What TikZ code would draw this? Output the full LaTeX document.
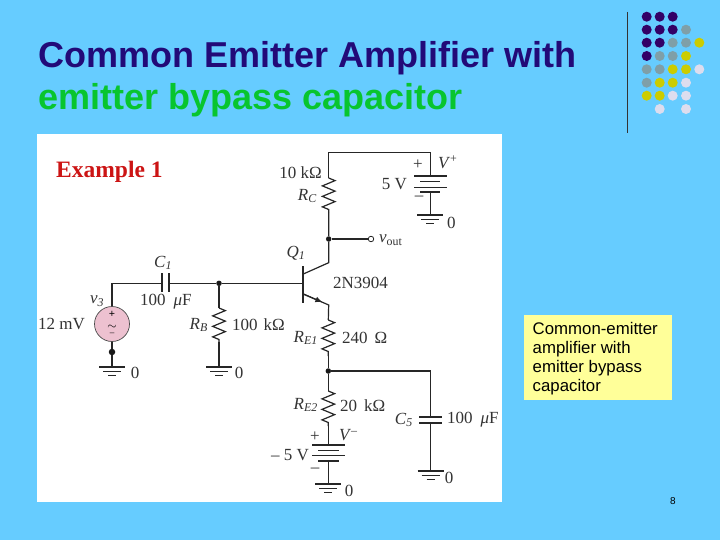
\documentclass[tikz,border=0pt]{standalone}
\usepackage{fontspec}
\setmainfont{Liberation Serif}
\newfontfamily\arialf{Liberation Sans}
\usetikzlibrary{decorations.pathmorphing,arrows.meta,calc}
\definecolor{bgblue}{HTML}{66CCFF}
\definecolor{ttlpurple}{HTML}{220A78}
\definecolor{ttlgreen}{HTML}{08C52E}
\definecolor{dotp}{HTML}{330066}
\definecolor{dotg}{HTML}{7F9FA8}
\definecolor{doty}{HTML}{CCCC00}
\definecolor{dotl}{HTML}{DDDDEE}
\definecolor{notey}{HTML}{FFFF99}
\definecolor{srcpink}{HTML}{EDC1D0}
\definecolor{exred}{HTML}{CC1414}
\newcommand{\isub}[2]{\textit{#1}\textsubscript{\textit{#2}}}
\newcommand{\isup}[2]{\textit{#1}\textsuperscript{#2}}
\tikzset{
  x=1pt,y=-1pt,
  wire/.style={line width=1.2pt,black!85},
  res/.style={line width=1.2pt,black!85,decorate,decoration={zigzag,segment length=10.5pt,amplitude=6.3pt}},
  thick plate/.style={line width=1.7pt,black!85},
  thin plate/.style={line width=.8pt,black!85},
  junc/.style={circle,fill=black!90,inner sep=0pt,minimum size=5.5pt},
  openterm/.style={circle,draw=black!85,fill=white,line width=.8pt,inner sep=0pt,minimum size=5.5pt},
  lbl/.style={inner sep=0pt,font=\fontsize{17}{19}\selectfont,text=black!80},
  ttl/.style={inner sep=0pt,anchor=base west,font=\arialf\bfseries\fontsize{36}{38}\selectfont},
  dot/.style={circle,inner sep=0pt,minimum size=10pt},
  gnd/.pic={
    \draw[thick plate,line width=1.3pt] (-13,0) -- (13,0);
    \draw[thin plate] (-9,4.5) -- (9,4.5);
    \draw[thin plate,line width=1.1pt] (-4,8.5) -- (4,8.5);
  }
}
\begin{document}
\begin{tikzpicture}
\useasboundingbox (0,0) rectangle (720,540);
\fill[bgblue] (0,0) rectangle (720,540);
% title
\node[ttl,text=ttlpurple] (title1) at (38,67.5) {Common Emitter Amplifier with};
\node[ttl,text=ttlgreen] (title2) at (38,110) {emitter bypass capacitor};
% decoration
\coordinate (vt) at (627.5,12); \coordinate (vb) at (627.5,133);
\draw[line width=1pt,black!80] (vt) -- (vb);
\foreach \xx/\yy/\cc in {
 646.7/16.7/dotp,659.7/16.7/dotp,672.7/16.7/dotp,
 646.7/29.7/dotp,659.7/29.7/dotp,672.7/29.7/dotp,686/29.7/dotg,
 646.7/42.7/dotp,659.7/42.7/dotp,672.7/42.7/dotg,686/42.7/dotg,699.3/42.7/doty,
 646.7/56/dotp,659.7/56/dotg,672.7/56/dotg,686/56/doty,
 646.7/69.3/dotg,659.7/69.3/dotg,672.7/69.3/doty,686/69.3/doty,699.3/69.3/dotl,
 646.7/82.7/dotg,659.7/82.7/doty,672.7/82.7/doty,686/82.7/dotl,
 646.7/95.7/doty,659.7/95.7/doty,672.7/95.7/dotl,686/95.7/dotl,
 659.7/109/dotl,686/109/dotl}
  \node[dot,fill=\cc] at (\xx,\yy) {};
% white panel
\fill[white] (37,134) rectangle (502,502);
\node[inner sep=0pt,anchor=base west,text=exred,font=\bfseries\fontsize{23.5}{25}\selectfont] (ex) at (56,178) {Example 1};
% coordinates
\coordinate (topL) at (328.7,152.7);
\coordinate (topR) at (430.3,152.7);
\coordinate (rcT) at (328.7,178);
\coordinate (rcB) at (328.7,213);
\node[junc] (nout) at (328.7,239) {};
\node[openterm] (vout) at (371,239) {};
\coordinate (col) at (328.7,262.7);
\coordinate (colB) at (303.3,274);
\coordinate (emB) at (303.3,294);
\coordinate (em) at (328.7,305);
\coordinate (base) at (303.3,283.3);
\coordinate (barT) at (303.3,266);
\coordinate (barB) at (303.3,303);
\coordinate (reT) at (328.3,320);
\coordinate (reB) at (328.3,356);
\node[junc] (nem) at (328.3,371) {};
\coordinate (re2T) at (328.3,391);
\coordinate (re2B) at (328.3,426);
% top battery
\coordinate (b1T) at (430.3,175.7);
\coordinate (b1B) at (430.3,191.7);
\coordinate (g1) at (430.3,215);
\draw[wire] (rcT) -- (topL) -- (topR) -- (b1T);
\draw[thick plate] (414,175.7) -- (447,175.7);
\draw[thin plate] (420,181.7) -- (440,181.7);
\draw[thin plate] (414,187) -- (447,187);
\draw[thick plate] (420,191.7) -- (440,191.7);
\draw[wire] (b1B) -- (g1);
\pic at (g1) {gnd};
\draw[res] (rcT) -- (rcB);
\draw[wire] (rcB) -- (nout) -- (col) -- (colB);
\draw[wire] (nout) -- (vout);
% transistor
\draw[line width=2pt,black!85] (barT) -- (barB);
\draw[wire,-{Latex[length=7pt,width=6pt]}] (emB) -- ($(emB)!0.75!(em)$);
\draw[wire] (emB) -- (em) -- (reT);
\draw[res] (reT) -- (reB);
\draw[wire] (reB) -- (nem) -- (re2T);
\draw[res] (re2T) -- (re2B);
% bottom battery
\coordinate (b2T) at (328.3,445);
\coordinate (b2B) at (328.3,461);
\coordinate (g2) at (328.3,484);
\draw[wire] (re2B) -- (b2T);
\draw[thick plate] (312,445) -- (345,445);
\draw[thin plate] (318,450) -- (339,450);
\draw[thin plate] (312,455) -- (345,455);
\draw[thick plate] (318,461) -- (339,461);
\draw[wire] (b2B) -- (g2);
\pic at (g2) {gnd};
% C5
\coordinate (c5c) at (430.7,371);
\coordinate (c5T) at (430.7,417);
\coordinate (c5B) at (430.7,423);
\coordinate (g3) at (430.7,471);
\draw[wire] (nem) -- (c5c) -- (c5T);
\draw[thick plate] (419,417) -- (442,417);
\draw[thick plate] (419,423) -- (442,423);
\draw[wire] (c5B) -- (g3);
\pic at (g3) {gnd};
% input
\node[circle,draw=black!70,fill=srcpink,line width=.7pt,inner sep=0pt,minimum size=35pt] (src) at (112,324) {};
\node[inner sep=0pt,font=\fontsize{11}{11}\selectfont\bfseries] at (112,314.5) {+};
\node[inner sep=0pt,font=\fontsize{12}{12}\selectfont] at (112,327) {$\sim$};
\node[inner sep=0pt,font=\fontsize{9}{9}\selectfont] at (112,334) {--};
\coordinate (inC) at (112,283.3);
\coordinate (c1L) at (162.3,283.3);
\coordinate (c1R) at (169,283.3);
\node[junc] (nb) at (219,283.3) {};
\draw[wire] (src) -- (inC) -- (c1L);
\draw[thick plate] (162.3,273) -- (162.3,292);
\draw[thick plate] (169,273) -- (169,292);
\draw[wire] (c1R) -- (nb) -- (base);
\coordinate (rbT) at (219,308);
\coordinate (rbB) at (219,342);
\coordinate (g4) at (219,367);
\draw[wire] (nb) -- (rbT);
\draw[res] (rbT) -- (rbB);
\draw[wire] (rbB) -- (g4);
\pic at (g4) {gnd};
\node[junc,minimum size=6.5pt] (ns) at (112,352) {};
\coordinate (g5) at (112,367);
\draw[wire] (src) -- (ns) -- (g5);
\pic at (g5) {gnd};
% labels
\node[lbl,anchor=east] at (322,173) {10 kΩ};
\node[lbl,anchor=east] at (317,196) {\isub{R}{C}};
\node[lbl,anchor=west] at (379,240) {\textit{v}\textsubscript{out}};
\node[lbl] at (296,253) {\isub{Q}{1}};
\node[lbl,anchor=west] at (333,283) {2N3904};
\node[lbl] at (418,165) {+};
\node[lbl,anchor=west] at (438,162) {\isup{V}{+}};
\node[lbl,anchor=east] at (407,184) {5 V};
\node[lbl] at (419,198) {--};
\node[lbl,anchor=west] at (447,223) {0};
\node[lbl] at (163,263) {\isub{C}{1}};
\node[lbl,anchor=west] at (140,302) {100\hspace{8pt}\textit{μ}F};
\node[lbl] at (97,301) {\isub{v}{3}};
\node[lbl,anchor=east] at (85,324) {12 mV};
\node[lbl,anchor=east] at (208,325) {\isub{R}{B}};
\node[lbl,anchor=west] at (232,325) {100\hspace{6pt}kΩ};
\node[lbl] at (135,373) {0};
\node[lbl] at (239,373) {0};
\node[lbl,anchor=east] at (318,338) {\isub{R}{E1}};
\node[lbl,anchor=west] at (342,338) {240\hspace{7pt}Ω};
\node[lbl,anchor=east] at (318,405) {\isub{R}{E2}};
\node[lbl,anchor=west] at (340,406) {20\hspace{7pt}kΩ};
\node[lbl] at (315,437) {+};
\node[lbl,anchor=west] at (339,435) {\isup{V}{--}};
\node[lbl,anchor=east] at (309,455) {-- 5 V};
\node[lbl] at (315,470) {--};
\node[lbl] at (349,491) {0};
\node[lbl,anchor=east] at (413,420) {\isub{C}{5}};
\node[lbl,anchor=west] at (447,420) {100\hspace{8pt}\textit{μ}F};
\node[lbl] at (449,478) {0};
% note
\node[fill=notey,anchor=north west,minimum width=148pt,minimum height=85pt,inner sep=0pt] (note) at (524,315) {};
\node[inner sep=0pt,anchor=north west,align=left,font=\arialf\fontsize{16.8}{19}\selectfont] (notetxt) at (532.5,322.5) {Common-emitter\\amplifier with\\emitter bypass\\capacitor};
\node[inner sep=0pt,font=\arialf\fontsize{10}{12}\selectfont] (pg) at (673,501) {8};
\end{tikzpicture}
\end{document}
